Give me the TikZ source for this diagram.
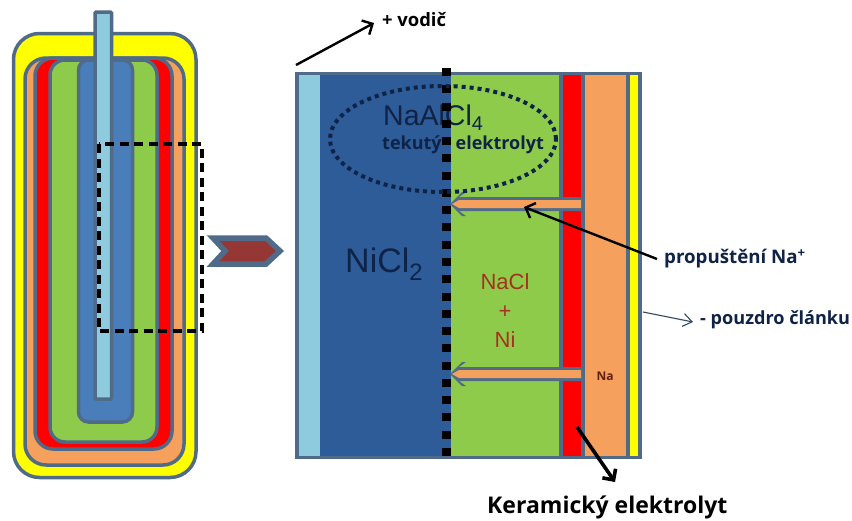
\documentclass[tikz,border=0pt]{standalone}
\usepackage{fontspec}
\setmainfont{Open Sans}
\newfontfamily\arialfont{Liberation Sans}
\usetikzlibrary{arrows.meta, positioning}
\usetikzlibrary{shapes.geometric}
\definecolor{steel}{HTML}{4F6B88}
\definecolor{cellyellow}{HTML}{FFFF00}
\definecolor{cellorange}{HTML}{F5A05C}
\definecolor{cellred}{HTML}{FF0000}
\definecolor{cellgreen}{HTML}{8FCB4B}
\definecolor{cellblue}{HTML}{4A7EBB}
\definecolor{celldark}{HTML}{2D5C99}
\definecolor{celllight}{HTML}{8FCBDF}
\definecolor{inkdark}{HTML}{0F2347}
\definecolor{inkred}{HTML}{A5321E}
\definecolor{chevronred}{HTML}{953735}

\begin{document}
\begin{tikzpicture}[
    x=1pt, y=-1pt,
    layer/.style={draw=steel, line width=3.5pt, rounded corners=#1},
    layer/.default=16pt,
    label/.style={inner sep=0pt, font=\bfseries\fontsize{18.4}{20}\selectfont, text=inkdark},
    bigtext/.style={inner sep=0pt, font=\arialfont\fontsize{28.5}{30}\selectfont, text=inkdark},
    redtext/.style={inner sep=0pt, font=\arialfont\fontsize{22}{24}\selectfont, text=inkred},
    line/.style={draw=black, -{Straight Barb[length=8pt,width=16pt]}, line width=2.4pt},
    thinline/.style={draw=steel!70!black, -{Straight Barb[length=9pt,width=13pt]}, line width=1.1pt}
]

% Page
\path[use as bounding box, fill=white] (0,0) rectangle (852,520);

% Whole cell on the left
\draw[layer=26pt, fill=cellyellow] (13.5,33.5) rectangle (196,477.5);
\draw[layer=21pt, fill=cellorange] (25,58) rectangle (184,465);
\draw[layer=18pt, fill=cellred] (35,58) rectangle (172,449);
\draw[layer=15pt, fill=cellgreen] (50,60) rectangle (157,442);
\draw[layer=10pt, fill=cellblue] (78.5,60) rectangle (132.5,422);
\draw[layer=1pt, fill=celllight] (95,12) rectangle (111.5,399);

% Detail frame
\draw[black, line width=4pt, dash pattern=on 9pt off 5.5pt] (98.5,144) rectangle (202,331);

% Chevron
\draw[draw=steel, line width=5.5pt, fill=chevronred, line join=miter]
    (213,238) -- (266,238) -- (280,251) -- (266,264) -- (213,264) -- (225,251) -- cycle;

% Cut-away on the right
\fill[steel] (295,72) rectangle (642,459);
\fill[celllight] (299,75) rectangle (320,456);
\fill[celldark] (320,75) rectangle (451,456);
\fill[cellgreen] (451,75) rectangle (559,456);
\fill[cellred] (563,75) rectangle (581,456);
\fill[cellorange] (585,75) rectangle (626,456);
\fill[cellyellow] (630,75) rectangle (638,456);

% Texts in the cut-away
\node[bigtext, anchor=west] (melt) at (383,118) {NaAlCl\textsubscript{4}};
\node[label, font=\bfseries\fontsize{18}{20}\selectfont, anchor=west] (liquid) at (382,145) {tekutý\hspace{14pt}elektrolyt};
\node[bigtext, font=\arialfont\fontsize{34}{36}\selectfont, anchor=west] (cathode) at (345,264) {NiCl\textsubscript{2}};
\node[redtext, align=center] (salt) at (505,311) {NaCl\\[5pt]+\\[5pt]Ni};
\node[label, font=\bfseries\fontsize{12}{14}\selectfont, text=inkred!60!black] (sodium) at (605,376) {Na};

% Ion flow, membrane to separator
\foreach \y in {204,374}{
    \fill[steel] (450,\y) -- (462,\y-12) -- (466,\y-12) -- (459,\y-7) -- (581,\y-7) -- (581,\y+7) -- (459,\y+7) -- (466,\y+12) -- (462,\y+12) -- cycle;
    \fill[cellorange] (452,\y) -- (459,\y-4) -- (581,\y-4) -- (581,\y+4) -- (459,\y+4) -- cycle;
}

% Dotted separator and liquid zone
\draw[black, line width=9pt, dash pattern=on 8pt off 9.27pt] (446.5,68) -- (446.5,458);
\node[draw=inkdark, ellipse, line width=4pt, dash pattern=on 4pt off 4pt, minimum width=226pt, minimum height=106pt, inner sep=0pt] (pool) at (443,139) {};

% Labels
\node[label, text=black, anchor=west] (wire) at (382,20) {+ vodič};
\node[label, font=\bfseries\fontsize{18.7}{20}\selectfont, anchor=west] (passage) at (664,259) {propuštění Na\textsuperscript{+}};
\node[label, font=\bfseries\fontsize{18.1}{20}\selectfont, anchor=west] (casing) at (700,320) {- pouzdro článku};
\node[label, text=black, font=\bfseries\fontsize{23}{26}\selectfont, anchor=west] (ceramic) at (487,507) {Keramický elektrolyt};

% Free ends of the arrows
\coordinate (wirestart) at (296,65);
\coordinate (flowend) at (524,207);
\coordinate (casingstart) at (643,312);
\coordinate (ceramicstart) at (577,427);
\coordinate (ceramicend) at (615,482);

% Arrows
\path[line] (wirestart) -- ([xshift=-8pt,yshift=-3pt]wire.west);
\path[line] ([xshift=-7pt]passage.west) -- (flowend);
\path[thinline] (casingstart) -- ([xshift=-7pt,yshift=-2pt]casing.west);
\path[line, line width=3.6pt] (ceramicstart) -- (ceramicend);

\end{tikzpicture}
\end{document}
